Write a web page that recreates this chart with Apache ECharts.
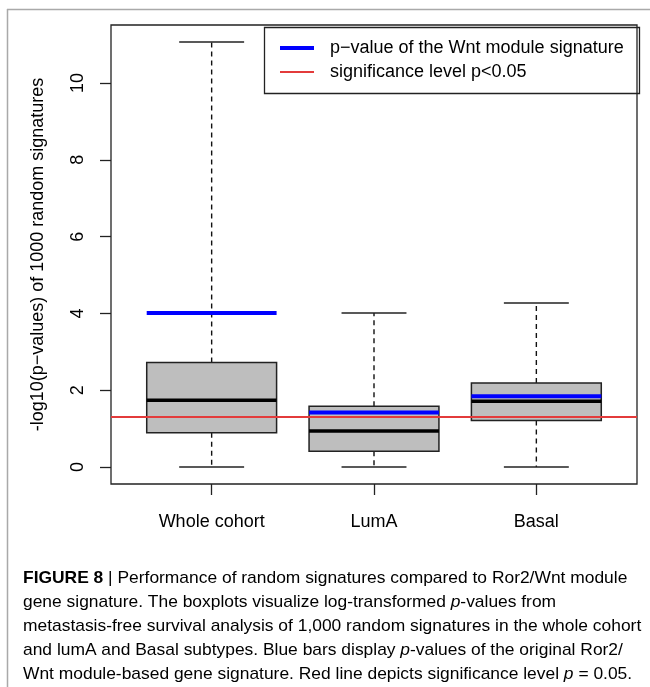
<!DOCTYPE html>
<html>
<head>
<meta charset="utf-8">
<script src="https://cdn.jsdelivr.net/npm/echarts@6/dist/echarts.min.js"></script>
<style>
html,body{margin:0;padding:0;background:#fff;}
#chart{width:650px;height:687px;}
</style>
</head>
<body>
<div id="chart"></div>
<script>
// ---- data ----
const categories = ['Whole cohort', 'LumA', 'Basal'];
const lowerWhisker = [0, 0, 0];
const q1 = [0.89, 0.41, 1.21];
const median = [1.74, 0.94, 1.71];
const q3 = [2.72, 1.58, 2.19];
const upperWhisker = [11.07, 4.01, 4.27];
const wntSignature = [4.01, 1.42, 1.84];
const significanceLevel = 1.301; // -log10(0.05)
const yTicks = [0, 2, 4, 6, 8, 10];
const xTicks = [1, 2, 3];

const legendNames = ['p\u2212value of the Wnt module signature', 'significance level p<0.05'];
const yAxisTitle = '-log10(p\u2212values) of 1000 random signatures';

const captionLines = [
  ['FIGURE 8', ' | Performance of random signatures compared to Ror2/Wnt module'],
  ['', 'gene signature. The boxplots visualize log-transformed ', 'p', '-values from'],
  ['', 'metastasis-free survival analysis of 1,000 random signatures in the whole cohort'],
  ['', 'and lumA and Basal subtypes. Blue bars display ', 'p', '-values of the original Ror2/'],
  ['', 'Wnt module-based gene signature. Red line depicts significance level ', 'p', ' = 0.05.']
];

// ---- layout helpers ----
const FONT = '"Liberation Sans", Arial, Helvetica, sans-serif';
const boxWidth = 0.8;
const n = categories.length;
const blueColor = '#0000ff', redColor = '#e33b3b';
// R-style 4% axis extension
const dMin = Math.min(...lowerWhisker), dMax = Math.max(...upperWhisker);
const yMin = dMin - 0.04 * (dMax - dMin);
const yMax = dMax + 0.04 * (dMax - dMin);
const xMin = 0.5 - 0.04 * n, xMax = n + 0.5 + 0.04 * n;

// caption font size fitted to width
const cv = document.createElement('canvas').getContext('2d');
cv.font = '100px ' + FONT;
const longest = captionLines[2].join('');
const capSize = Math.min(18, 619 / cv.measureText(longest).width * 100);

const captionText = captionLines.map(parts => {
  let s = '';
  if (parts[0]) s += '{b|' + parts[0] + '}';
  for (let i = 1; i < parts.length; i++) {
    s += (i % 2 === 1 ? '{r|' : '{i|') + parts[i] + '}';
  }
  return s;
}).join('\n');

const boxData = categories.map((c, i) => [xTicks[i], lowerWhisker[i], q1[i], median[i], q3[i], upperWhisker[i]]);

function renderBox(params, api) {
  const x = api.value(0);
  const w = api.size([boxWidth, 0])[0];
  const cx = api.coord([x, 0])[0];
  const y = v => api.coord([x, v])[1];
  const lo = y(api.value(1)), a = y(api.value(2)), m = y(api.value(3)), b = y(api.value(4)), hi = y(api.value(5));
  const half = w / 2, capHalf = w / 4;
  const dashed = {stroke: '#111', lineWidth: 1.4, lineDash: [5, 4]};
  const solid = {stroke: '#222', lineWidth: 1.5};
  return {
    type: 'group',
    children: [
      {type: 'line', shape: {x1: cx, y1: b, x2: cx, y2: hi}, style: dashed},
      {type: 'line', shape: {x1: cx, y1: a, x2: cx, y2: lo}, style: dashed},
      {type: 'line', shape: {x1: cx - capHalf, y1: hi, x2: cx + capHalf, y2: hi}, style: solid},
      {type: 'line', shape: {x1: cx - capHalf, y1: lo, x2: cx + capHalf, y2: lo}, style: solid},
      {type: 'rect', shape: {x: cx - half, y: b, width: w, height: a - b}, style: {fill: '#bebebe', stroke: '#222', lineWidth: 1.5}},
      {type: 'line', shape: {x1: cx - half, y1: m, x2: cx + half, y2: m}, style: {stroke: '#000', lineWidth: 3.5}}
    ]
  };
}

const blueSeries = wntSignature.map((v, i) => ({
  type: 'line',
  name: legendNames[0],
  data: [[xTicks[i] - boxWidth / 2, v], [xTicks[i] + boxWidth / 2, v]],
  symbol: 'none',
  color: blueColor,
  lineStyle: {color: blueColor, width: 4, cap: 'butt'},
  z: 5,
  silent: true
}));

const option = {
  animation: false,
  backgroundColor: '#fff',
  grid: {left: 111, right: 13, top: 25, bottom: 203, show: true, borderColor: '#222', borderWidth: 1.3, backgroundColor: 'transparent'},
  xAxis: {
    type: 'value', min: xMin, max: xMax,
    axisLine: {show: false, onZero: false},
    splitLine: {show: false},
    axisTick: {show: true, customValues: xTicks, length: 11, lineStyle: {color: '#222', width: 1.3}},
    axisLabel: {customValues: xTicks, formatter: v => categories[Math.round(v) - 1] || '', fontSize: 18, color: '#000', fontFamily: FONT, margin: 29}
  },
  yAxis: {
    type: 'value', min: yMin, max: yMax,
    axisLine: {show: false},
    splitLine: {show: false},
    axisTick: {show: true, customValues: yTicks, length: 11, lineStyle: {color: '#222', width: 1.3}},
    axisLabel: {customValues: yTicks, rotate: 90, fontSize: 18, color: '#000', fontFamily: FONT, margin: 24},
    name: yAxisTitle, nameLocation: 'middle', nameRotate: 90, nameGap: 64,
    nameTextStyle: {fontSize: 18, color: '#000', fontFamily: FONT}
  },
  legend: {
    orient: 'vertical', left: 278, top: 39, padding: 0,
    itemWidth: 34, itemHeight: 16, itemGap: 6,
    data: [
      {name: legendNames[0], lineStyle: {width: 4, color: blueColor}},
      {name: legendNames[1], lineStyle: {width: 2, color: redColor}}
    ],
    itemStyle: {opacity: 0},
    textStyle: {fontSize: 18, color: '#000', fontFamily: FONT, padding: [0, 0, 0, 11]}
  },
  graphic: [
    {type: 'rect', left: 262, top: 25, shape: {width: 375, height: 66}, style: {fill: 'none', stroke: '#222', lineWidth: 1.3}, z: 10, silent: true},
    {type: 'line', shape: {x1: 7, y1: 9.5, x2: 650, y2: 9.5}, style: {stroke: '#a9a9a9', lineWidth: 1.5}, silent: true},
    {type: 'line', shape: {x1: 7.5, y1: 9, x2: 7.5, y2: 687}, style: {stroke: '#a9a9a9', lineWidth: 1.5}, silent: true},
    {
      type: 'text', left: 23, top: 566, silent: true,
      style: {
        text: captionText,
        fontFamily: FONT,
        lineHeight: 24,
        rich: {
          b: {fontSize: capSize, fontWeight: 'bold', color: '#222', fontFamily: FONT, lineHeight: 24},
          r: {fontSize: capSize, color: '#444', fontFamily: FONT, lineHeight: 24},
          i: {fontSize: capSize, color: '#444', fontStyle: 'italic', fontFamily: FONT, lineHeight: 24}
        }
      }
    }
  ],
  series: [
    {type: 'custom', name: 'boxes', renderItem: renderBox, data: boxData, encode: {x: 0, y: [1, 2, 3, 4, 5]}, z: 2, silent: true},
    ...blueSeries,
    {
      type: 'line', name: legendNames[1],
      data: [[xMin, significanceLevel], [xMax, significanceLevel]],
      symbol: 'none', color: redColor,
      lineStyle: {color: redColor, width: 2}, z: 6, silent: true
    }
  ]
};

const chart = echarts.init(document.getElementById('chart'), null, {renderer: 'canvas'});
chart.setOption(option);
</script>
</body>
</html>
